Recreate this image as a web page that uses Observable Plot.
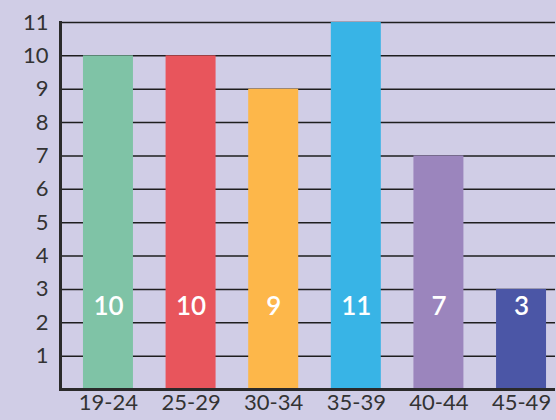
<!DOCTYPE html>
<html>
<head>
<meta charset="utf-8">
<script src="https://cdn.jsdelivr.net/npm/d3@7"></script>
<script src="https://cdn.jsdelivr.net/npm/@observablehq/plot@0.6"></script>
<style>
  html, body { margin: 0; padding: 0; background: #d0cde6; }
  #chart { width: 556px; height: 420px; }
  svg { display: block; }
</style>
</head>
<body>
<div id="chart"></div>
<script>
const categories = ["19-24", "25-29", "30-34", "35-39", "40-44", "45-49"];
const values = [10, 10, 9, 11, 7, 3];
const colors = ["#7fc3a6", "#e8555c", "#fdb74a", "#38b4e6", "#9b85bd", "#4b56a6"];
const yTicks = [1, 2, 3, 4, 5, 6, 7, 8, 9, 10, 11];

const data = categories.map((c, i) => ({ cat: c, value: values[i], color: colors[i] }));

const chart = Plot.plot({
  width: 556,
  height: 420,
  marginLeft: 60,
  marginRight: 1,
  marginTop: 22,
  marginBottom: 31,
  style: { background: "#d0cde6", fontFamily: "Lato, 'Open Sans', sans-serif" },
  x: { type: "band", domain: categories, range: [60, 569], round: false, paddingInner: 0.395, paddingOuter: 0.278, label: null },
  y: { domain: [0, 11], label: null },
  marks: [
    Plot.ruleY(yTicks, { stroke: "#1e1e1e", strokeWidth: 1.5 }),
    Plot.barY(data, { x: "cat", y: "value", fill: "color" }),
    Plot.text(data, { x: "cat", y: () => 2.48, text: d => String(d.value), fill: "white", fontSize: 26, fontWeight: 600 }),
    Plot.axisY(yTicks, { tickSize: 0, tickPadding: 12, fontSize: 22, fill: "#333", label: null }),
    Plot.axisX({ tickSize: 0, tickPadding: 5, fontSize: 22, fill: "#333", label: null }),
    Plot.ruleY([0], { stroke: "#2a2a2a", strokeWidth: 3 }),
    Plot.frame({ anchor: "left", stroke: "#2a2a2a", strokeWidth: 3 })
  ]
});
document.getElementById("chart").appendChild(chart);
</script>
</body>
</html>
